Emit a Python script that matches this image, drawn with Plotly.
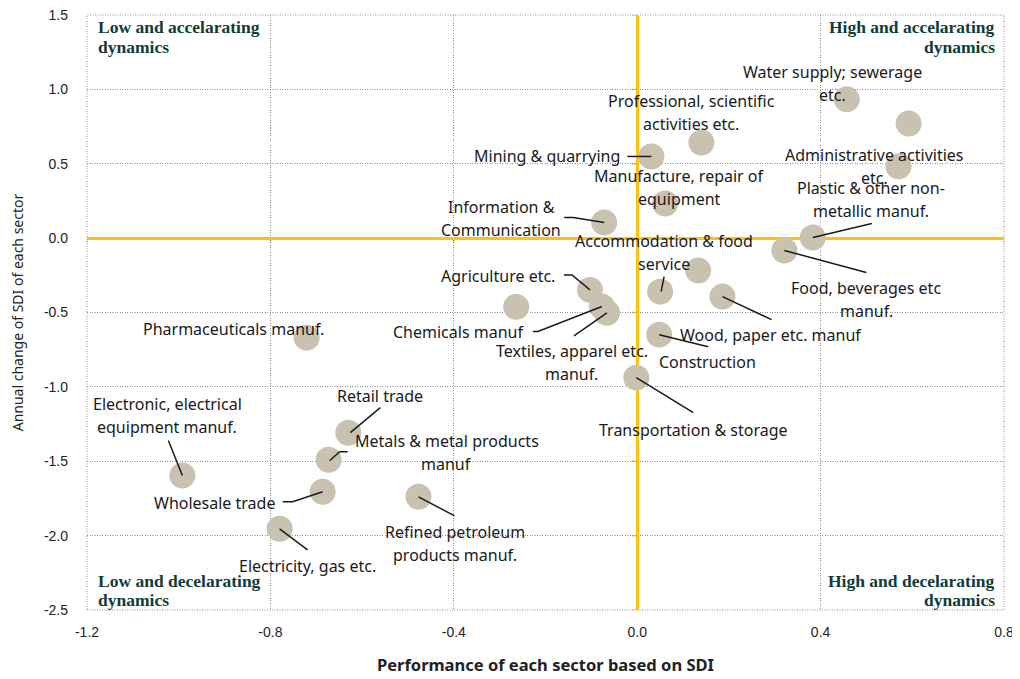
import plotly.graph_objects as go

# ---------------- data ----------------
sectors = [
    "Water supply; sewerage<br>etc.",
    "",
    "Professional, scientific<br>activities etc.",
    "Mining & quarrying",
    "Administrative activities<br>etc.",
    "Manufacture, repair of<br>equipment",
    "Information &<br>Communication",
    "Plastic & other non-<br>metallic manuf.",
    "Food, beverages etc<br>manuf.",
    "",
    "Accommodation & food<br>service",
    "Agriculture etc.",
    "",
    "Chemicals manuf",
    "Textiles, apparel etc.<br>manuf.",
    "Wood, paper etc. manuf",
    "Construction",
    "Transportation & storage",
    "Pharmaceuticals manuf.",
    "Retail trade",
    "Metals & metal products<br>manuf",
    "Electronic, electrical<br>equipment manuf.",
    "Wholesale trade",
    "Refined petroleum<br>products manuf.",
    "Electricity, gas etc.",
]
performance = [0.457, 0.592, 0.140, 0.031, 0.570, 0.061, -0.072, 0.383, 0.321, 0.133,
               0.050, -0.103, -0.264, -0.077, -0.066, 0.186, 0.048, -0.002, -0.721,
               -0.630, -0.673, -0.992, -0.686, -0.477, -0.780]
annual_change = [0.933, 0.771, 0.643, 0.549, 0.482, 0.233, 0.105, 0.004, -0.083, -0.218,
                 -0.360, -0.348, -0.462, -0.460, -0.502, -0.393, -0.649, -0.938, -0.669,
                 -1.308, -1.490, -1.596, -1.705, -1.739, -1.954]

x_ticks = [-1.2, -0.8, -0.4, 0.0, 0.4, 0.8]
x_tick_labels = ["-1.2", "-0.8", "-0.4", "0.0", "0.4", "0.8"]
y_ticks = [1.5, 1.0, 0.5, 0.0, -0.5, -1.0, -1.5, -2.0, -2.5]
y_tick_labels = ["1.5", "1.0", "0.5", "0.0", "-0.5", "-1.0", "-1.5", "-2.0", "-2.5"]

quadrants = [
    ("Low and accelarating<br>dynamics", 0.0, 1.0, "left", "top"),
    ("High and accelarating<br>dynamics", 1.0, 1.0, "right", "top"),
    ("Low and decelarating<br>dynamics", 0.0, 0.0, "left", "bottom"),
    ("High and decelarating<br>dynamics", 1.0, 0.0, "right", "bottom"),
]

# -------- label placement (pixel offsets from the marker, image-down positive) --------
placement = {
    0: ("center", -14, -27, None),
    2: ("center", -10, -41, None),
    3: ("right", -29, 0, [(0, 0), (-24, 0)]),
    4: ("center", -24, -11, None),
    5: ("center", 14, -27, None),
    6: ("center", -103, -16, [(0, 0), (-31, -5), (-40, -5)]),
    7: ("center", 58, -50, [(0, 0), (59, -14)]),
    8: ("center", 82, 38, [(0, 0), (82, 22)]),
    10: ("center", 4, -51, [(1, 0), (4, -15)]),
    11: ("right", -33, -14, [(0, 0), (-18, -15), (-26, -15)]),
    13: ("right", -76, 25, [(0, 0), (-64, 25), (-69, 25)]),
    14: ("center", -35, 38, [(0, 0), (-33, 23)]),
    15: ("center", 49, 38, [(0, 0), (49, 23)]),
    16: ("center", 48, 27, [(0, 0), (49, 12)]),
    17: ("center", 57, 52, [(0, 0), (57, 35)]),
    18: ("center", -73, -9, None),
    19: ("center", 32, -37, [(2, 0), (32, -25)]),
    20: ("center", 118, -19, [(1, 1), (11, -8), (19, -8)]),
    21: ("center", -15, -72, [(0, 0), (-14, -35)]),
    22: ("right", -46, 11, [(0, 0), (-30, 10), (-40, 10)]),
    23: ("center", 36, 35, [(0, 0), (36, 19)]),
    24: ("center", 28, 37, [(0, 0), (28, 21)]),
}
LINE_GAP = 23
LABEL_FONT = dict(family="Noto Sans, Open Sans, sans-serif", size=16, color="#1a1a1a")
YELLOW = "#FFC20E"

fig = go.Figure()
fig.add_trace(go.Scatter(
    x=performance, y=annual_change, mode="markers",
    marker=dict(size=26, color="rgb(201,194,176)", line=dict(width=0)),
    text=[s.replace("<br>", " ") for s in sectors], hoverinfo="text",
    showlegend=False,
))

annotations = []
shapes = []

# small yellow tick stubs on the zero lines
for xv in x_ticks:
    if xv == 0:
        continue
    shapes.append(dict(type="line", xref="x", yref="y", xsizemode="pixel", ysizemode="pixel",
                       xanchor=xv, yanchor=0, x0=0, x1=0, y0=0, y1=-5,
                       line=dict(color=YELLOW, width=1.5), layer="below"))
for yv in y_ticks:
    if yv == 0:
        continue
    shapes.append(dict(type="line", xref="x", yref="y", xsizemode="pixel", ysizemode="pixel",
                       xanchor=0, yanchor=yv, x0=0, x1=-5, y0=0, y1=0,
                       line=dict(color=YELLOW, width=1.5), layer="below"))

for i, name in enumerate(sectors):
    if i not in placement or not name:
        continue
    anchor, dx, dy, leader = placement[i]
    for k, line in enumerate(name.split("<br>")):
        annotations.append(dict(
            x=performance[i], y=annual_change[i], xref="x", yref="y",
            text=line, showarrow=False, xanchor=anchor, yanchor="middle",
            xshift=dx, yshift=-(dy + k * LINE_GAP), font=LABEL_FONT,
        ))
    if leader:
        path = "M " + " L ".join(f"{px} {-py}" for px, py in leader)
        shapes.append(dict(
            type="path", xref="x", yref="y", xsizemode="pixel", ysizemode="pixel",
            xanchor=performance[i], yanchor=annual_change[i], path=path,
            line=dict(color="#1a1a1a", width=1.5), layer="above",
        ))

# quadrant captions: one annotation per line, tighter line spacing
QFONT = dict(family="Liberation Serif, DejaVu Serif, serif", size=17.5, color="#0f3c38")
Q_GAP = 19.5
for text, qx, qy, xa, ya in quadrants:
    lines = text.split("<br>")
    for k, line in enumerate(lines):
        if ya == "top":
            ys = -12 - k * Q_GAP
        else:
            ys = 10 + (len(lines) - 1 - k) * Q_GAP
        annotations.append(dict(
            x=qx, y=qy, xref="x domain", yref="y domain", text="<b>" + line + "</b>",
            showarrow=False, xanchor=xa, yanchor="middle", font=QFONT,
            xshift=9 if xa == "left" else -7, yshift=ys,
        ))

GRID = "#909090"
shapes.append(dict(type="rect", xref="x domain", yref="y domain", x0=0, x1=1, y0=0, y1=1,
                   line=dict(color=GRID, width=1, dash="1px,1.5px"), layer="below"))

fig.update_layout(
    width=1012, height=671,
    margin=dict(l=79, r=16, t=7, b=69),
    plot_bgcolor="white", paper_bgcolor="white",
    annotations=annotations, shapes=shapes,
)
fig.update_xaxes(
    range=[-1.2, 0.8], tickvals=x_ticks, ticktext=x_tick_labels, automargin=False,
    showgrid=True, gridcolor=GRID, griddash="1px,1.5px", gridwidth=1,
    zeroline=True, zerolinecolor=YELLOW, zerolinewidth=2.5,
    showline=False, ticks="", ticklabelstandoff=12, ticklabeloverflow="allow",
    tickfont=dict(family="Liberation Sans, Arial, sans-serif", size=14, color="#222"),
    title=dict(text="<b>Performance of each sector based on SDI</b>", standoff=20,
               font=dict(family="Noto Sans, sans-serif", size=16.5, color="#222")),
)
fig.update_yaxes(
    range=[-2.5, 1.5], tickvals=y_ticks, ticktext=y_tick_labels, automargin=False,
    showgrid=True, gridcolor=GRID, griddash="1px,1.5px", gridwidth=1,
    zeroline=True, zerolinecolor=YELLOW, zerolinewidth=2.5,
    showline=False, ticks="", ticklabelstandoff=18, ticklabeloverflow="allow",
    tickfont=dict(family="Liberation Sans, Arial, sans-serif", size=14, color="#222"),
    title=dict(text="Annual change of SDI of each sector", standoff=18,
               font=dict(family="Noto Sans, sans-serif", size=14, color="#222")),
)

fig.write_html("out.html")
